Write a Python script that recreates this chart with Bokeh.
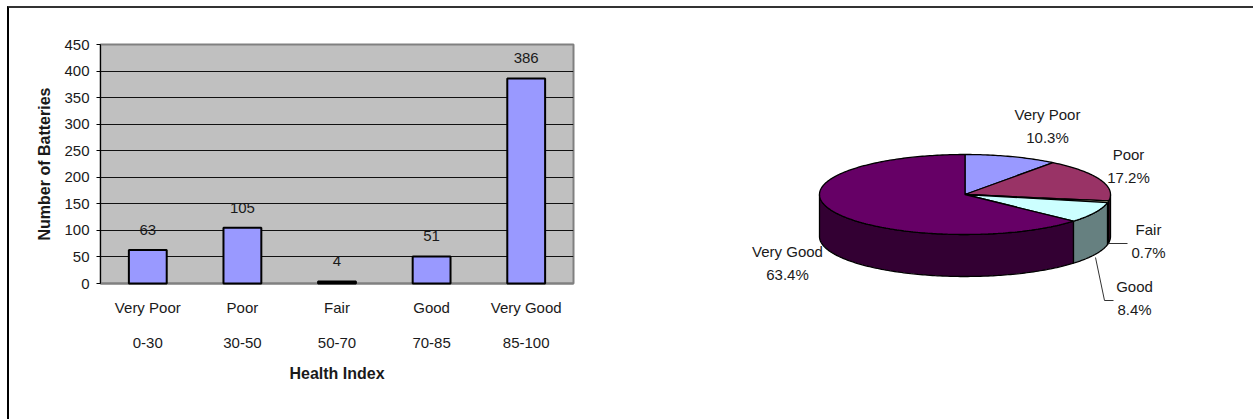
import math

from bokeh.core.properties import value
from bokeh.embed import file_html
from bokeh.layouts import column, row
from bokeh.models import (CategoricalAxis, ColumnDataSource, FactorRange,
                          FixedTicker, Range1d)
from bokeh.plotting import figure
from bokeh.resources import INLINE

# Battery condition survey
grades = ["Very Poor", "Poor", "Fair", "Good", "Very Good"]
index_bands = ["0-30", "30-50", "50-70", "70-85", "85-100"]
battery_counts = [63, 105, 4, 51, 386]
y_ticks = [0, 50, 100, 150, 200, 250, 300, 350, 400, 450]

top_colors = ["#9999FF", "#993366", "#FFFFCC", "#CCFFFF", "#660066"]
side_colors = ["#4D4D80", "#4D1A33", "#808066", "#668080", "#330033"]

FONT = "Liberation Sans"
TEXT = "#1a1a1a"
PAGE_W, PAGE_H, SPLIT = 1253, 419, 640
# The page rule (margin plus border) pushes the content right and down by this much
ORIGIN_X, ORIGIN_Y = 9, 8

# ---- column chart ----
bars = figure(width=SPLIT - ORIGIN_X, height=PAGE_H - ORIGIN_Y,
              output_backend="svg", toolbar_location=None,
              x_range=FactorRange(factors=grades, range_padding=0),
              y_range=Range1d(0, 450),
              min_border_left=100 - ORIGIN_X, min_border_right=SPLIT - 573,
              min_border_top=44 - ORIGIN_Y, min_border_bottom=PAGE_H - 283,
              background_fill_color="#C0C0C0", border_fill_color="white",
              outline_line_color="#808080", outline_line_width=2)
bars.extra_x_ranges = {"bands": FactorRange(factors=index_bands, range_padding=0)}

source = ColumnDataSource(dict(grade=grades, count=battery_counts,
                               label=[str(v) for v in battery_counts]))
bars.vbar(x="grade", top="count", width=0.4, source=source, level="annotation",
          fill_color="#9999FF", line_color="black", line_width=2)
bars.text(x="grade", y="count", text="label", source=source, y_offset=-20,
          text_align="center", text_baseline="alphabetic", text_color=TEXT,
          text_font=value(FONT), text_font_size="15px")

bars.xgrid.visible = False
bars.ygrid.grid_line_color = "#111111"
bars.ygrid.grid_line_width = 1
bars.ygrid.ticker = FixedTicker(ticks=y_ticks)

yaxis = bars.yaxis[0]
yaxis.ticker = FixedTicker(ticks=y_ticks)
yaxis.axis_label = "Number of Batteries"
yaxis.axis_label_text_font = FONT
yaxis.axis_label_text_font_style = "bold"
yaxis.axis_label_text_font_size = "16px"
yaxis.axis_label_text_color = TEXT
yaxis.axis_label_standoff = 8
yaxis.major_label_text_font = FONT
yaxis.major_label_text_font_size = "15px"
yaxis.major_label_text_color = TEXT
yaxis.major_label_standoff = 7
yaxis.major_tick_out = 4
yaxis.major_tick_in = 0
yaxis.minor_tick_line_color = None
yaxis.axis_line_color = "black"
yaxis.major_tick_line_color = "black"

grade_axis = bars.xaxis[0]
band_axis = CategoricalAxis(x_range_name="bands")
bars.add_layout(band_axis, "below")
for axis in (grade_axis, band_axis):
    axis.major_label_text_font = FONT
    axis.major_label_text_font_size = "15px"
    axis.major_label_text_color = TEXT
    axis.major_tick_line_color = None
    axis.minor_tick_line_color = None
grade_axis.major_label_standoff = 9
grade_axis.axis_line_color = "#808080"
grade_axis.axis_line_width = 2
band_axis.axis_line_color = None
band_axis.major_label_standoff = 13
band_axis.axis_label = "Health Index"
band_axis.axis_label_text_font = FONT
band_axis.axis_label_text_font_style = "bold"
band_axis.axis_label_text_font_size = "16px"
band_axis.axis_label_text_color = TEXT
band_axis.axis_label_standoff = 14

# ---- tilted pie ----
pie = figure(width=PAGE_W - SPLIT, height=PAGE_H - ORIGIN_Y,
             output_backend="svg", toolbar_location=None,
             x_range=Range1d(SPLIT, PAGE_W), y_range=Range1d(PAGE_H, ORIGIN_Y),
             min_border=0, outline_line_color=None, border_fill_color="white",
             x_axis_location=None, y_axis_location=None)
pie.grid.visible = False

CX, CY, RX, RY, DEPTH = 964.5, 194.0, 145.5, 40.0, 42.0


def rim(angle, drop=0.0):
    """Point on the pie's rim, angle in degrees clockwise from twelve o'clock."""
    rad = math.radians(angle)
    return CX + RX * math.sin(rad), CY - RY * math.cos(rad) + drop


def arc(start, stop, drop=0.0):
    steps = max(2, int(abs(stop - start)))
    return [rim(start + (stop - start) * i / steps, drop) for i in range(steps + 1)]


total = sum(battery_counts)
edges = [0.0]
for count in battery_counts:
    edges.append(edges[-1] + 360.0 * count / total)

# Outer walls: only the part of each slice that faces the viewer
for start, stop, color in zip(edges[:-1], edges[1:], side_colors):
    lo, hi = max(start, 90.0), min(stop, 270.0)
    if hi <= lo:
        continue
    ring = arc(lo, hi) + arc(hi, lo, DEPTH)
    pie.patch([q[0] for q in ring], [q[1] for q in ring],
              fill_color=color, line_color="black", line_width=1.3)

# Top face
for start, stop, color in zip(edges[:-1], edges[1:], top_colors):
    wedge = [(CX, CY)] + arc(start, stop)
    pie.patch([q[0] for q in wedge], [q[1] for q in wedge],
              fill_color=color, line_color="black", line_width=1.3)

# Leader lines for the two labels set away from the pie
pie.line([1108, 1127], [243, 243], line_color="#333333", line_width=1)
pie.line([1095, 1104, 1113], [257, 300, 300], line_color="#333333", line_width=1)

label_x = [1047, 1128, 1148, 1134, 787]
label_y = [114, 154, 229, 286, 251]
percent = [f"{100 * c / total:.1f}%" for c in battery_counts]
pie.text(x=label_x, y=label_y, text=grades, text_align="center", text_baseline="middle",
         text_color=TEXT, text_font=value(FONT), text_font_size="15px")
pie.text(x=label_x, y=[v + 23 for v in label_y], text=percent, text_align="center",
         text_baseline="middle", text_color=TEXT, text_font=value(FONT), text_font_size="15px")

# Rule along the left and top of the page
page = row(column(bars), column(pie), spacing=0, margin=(6, 0, 0, 7),
           styles={"border-left": "2px solid #000000", "border-top": "2px solid #333333"})
open("out.html", "w").write(file_html(page, INLINE))
